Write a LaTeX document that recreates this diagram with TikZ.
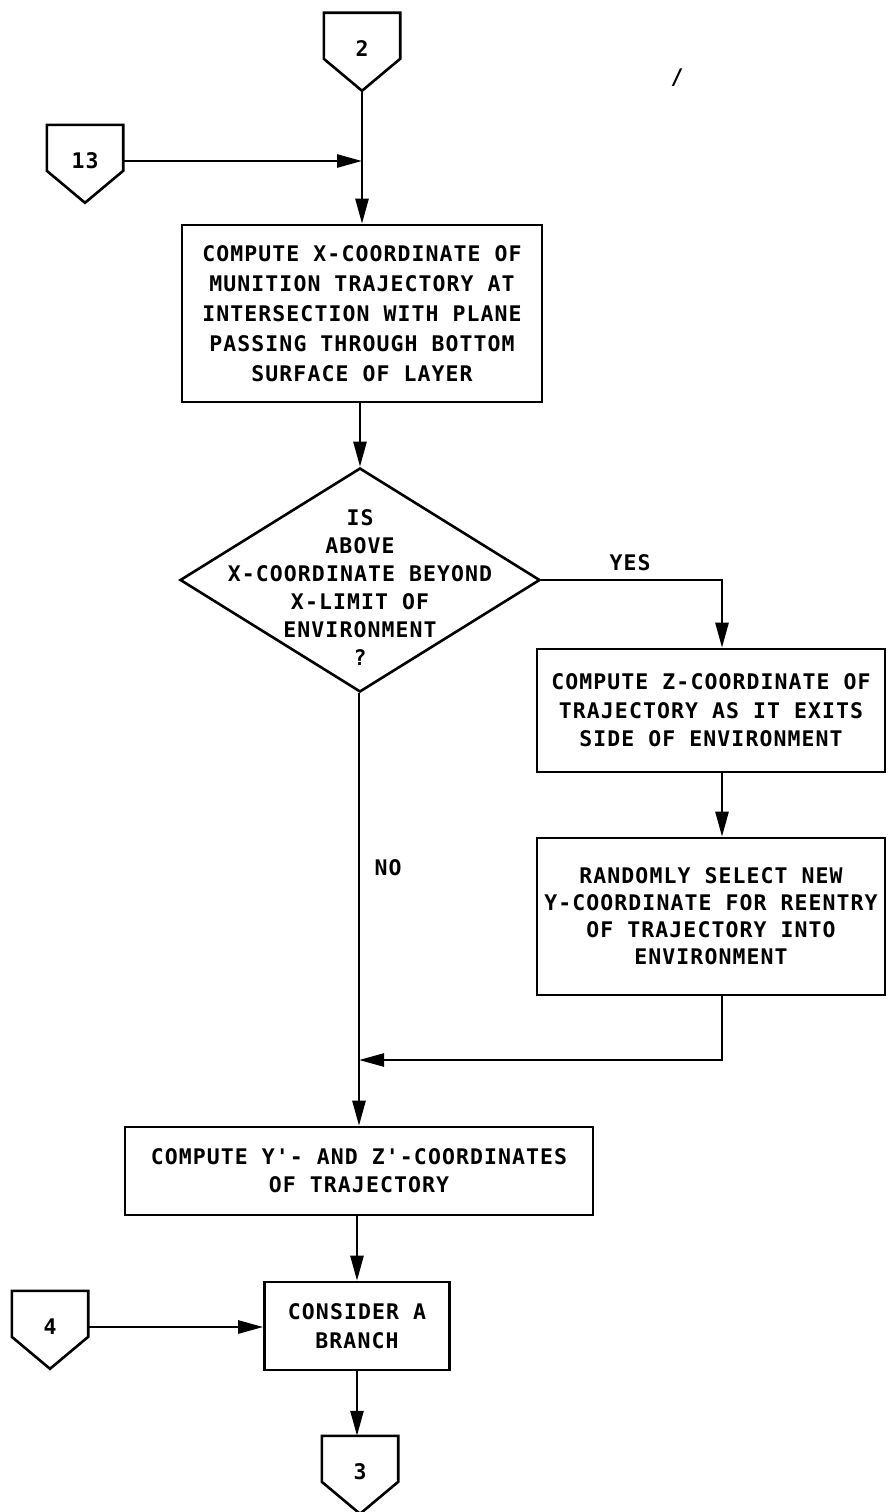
\documentclass[tikz,border=0pt]{standalone}
\usepackage{fontspec}
\newfontfamily\lettering[LetterSpace=5]{DejaVu Sans Mono}
\usetikzlibrary{arrows.meta,shapes.geometric}
\newcommand\lettersize[1]{\lettering\bfseries\fontsize{21.5}{#1}\selectfont}

\tikzset{
  line/.style={line width=2.6pt, line join=miter},
  arr/.style={line, -{Triangle[length=25pt,width=13pt]}},
  proc/.style={draw, line width=2.6pt, rectangle, inner sep=0pt, align=center},
  decision/.style={draw, line width=2.6pt, diamond, inner sep=0pt,
                   minimum width=360pt, minimum height=224pt},
  txt/.style={align=center, inner sep=0pt, font=\lettersize{28}},
  offpage/.style={minimum width=76pt, minimum height=72pt, inner sep=0pt,
                  font=\lettersize{24}},
}

% off-page connector: pentagon pointing down, text near the top
\newcommand\offpg[3]{%
  \node[offpage] (#1) at (#2) {#3};
  \draw[line] (#1.north west) -- (#1.north east)
    -- ([yshift=-46pt]#1.north east) -- ([yshift=-78pt]#1.north)
    -- ([yshift=-46pt]#1.north west) -- cycle;
  \coordinate (#1-tip) at ([yshift=-78pt]#1.north);
}

\begin{document}
\begin{tikzpicture}[x=1pt,y=-1pt]
\useasboundingbox (0,0) rectangle (887,1512);

% connectors in and out
\offpg{c2}{362,49}{2}
\offpg{c13}{85,161}{13}
\offpg{c4}{50,1327}{4}
\offpg{c3}{360,1472}{3}

\node[txt] (tick) at (677,78) {/};

% process boxes
\node[proc, minimum width=360pt, minimum height=177pt, font=\lettersize{30}]
  (xc) at (362,313.5)
  {COMPUTE X-COORDINATE OF\\MUNITION TRAJECTORY AT\\INTERSECTION WITH PLANE\\PASSING THROUGH BOTTOM\\SURFACE OF LAYER};

\node[decision] (dec) at (360,580) {};
\node[txt, font=\lettersize{28}] (dectext) at (360,588)
  {IS\\ABOVE\\X-COORDINATE BEYOND\\X-LIMIT OF\\ENVIRONMENT\\?};

\node[proc, minimum width=348pt, minimum height=123pt, font=\lettersize{28.5}]
  (zc) at (711,710.5)
  {COMPUTE Z-COORDINATE OF\\TRAJECTORY AS IT EXITS\\SIDE OF ENVIRONMENT};

\node[proc, minimum width=348pt, minimum height=157pt, font=\lettersize{27}]
  (ry) at (711,916.5)
  {RANDOMLY SELECT NEW\\Y-COORDINATE FOR REENTRY\\OF TRAJECTORY INTO\\ENVIRONMENT};

\node[proc, minimum width=468pt, minimum height=88pt, font=\lettersize{28}]
  (yz) at (359,1171)
  {COMPUTE Y'- AND Z'-COORDINATES\\OF TRAJECTORY};

\node[proc, minimum width=185pt, minimum height=88pt, font=\lettersize{29}]
  (br) at (357,1326)
  {CONSIDER A\\BRANCH};

% branch labels
\node[txt] (yes) at (630,563) {YES};
\node[txt] (no) at (388,868) {NO};

% routing points
\coordinate (rx) at (722,0);
\coordinate (mx) at (359,0);
\coordinate (merge) at (359,1060);

% flow lines
\draw[arr] (c2-tip) -- (xc.north);
\draw[arr] (c13.east) -- (c13.east -| c2-tip);
\draw[arr] (xc.south -| dec.north) -- (dec.north);
\draw[arr] (dec.east) -| (rx |- zc.north);
\draw[arr] (rx |- zc.south) -- (rx |- ry.north);
\draw[arr] (rx |- ry.south) |- (merge);
\draw[arr] (mx |- dec.south) -- (yz.north);
\draw[arr] (yz.south -| br.north) -- (br.north);
\draw[arr] (c4.east) -- (c4.east -| br.west);
\draw[arr] (br.south) -- (br.south |- c3.north);
\end{tikzpicture}
\end{document}
